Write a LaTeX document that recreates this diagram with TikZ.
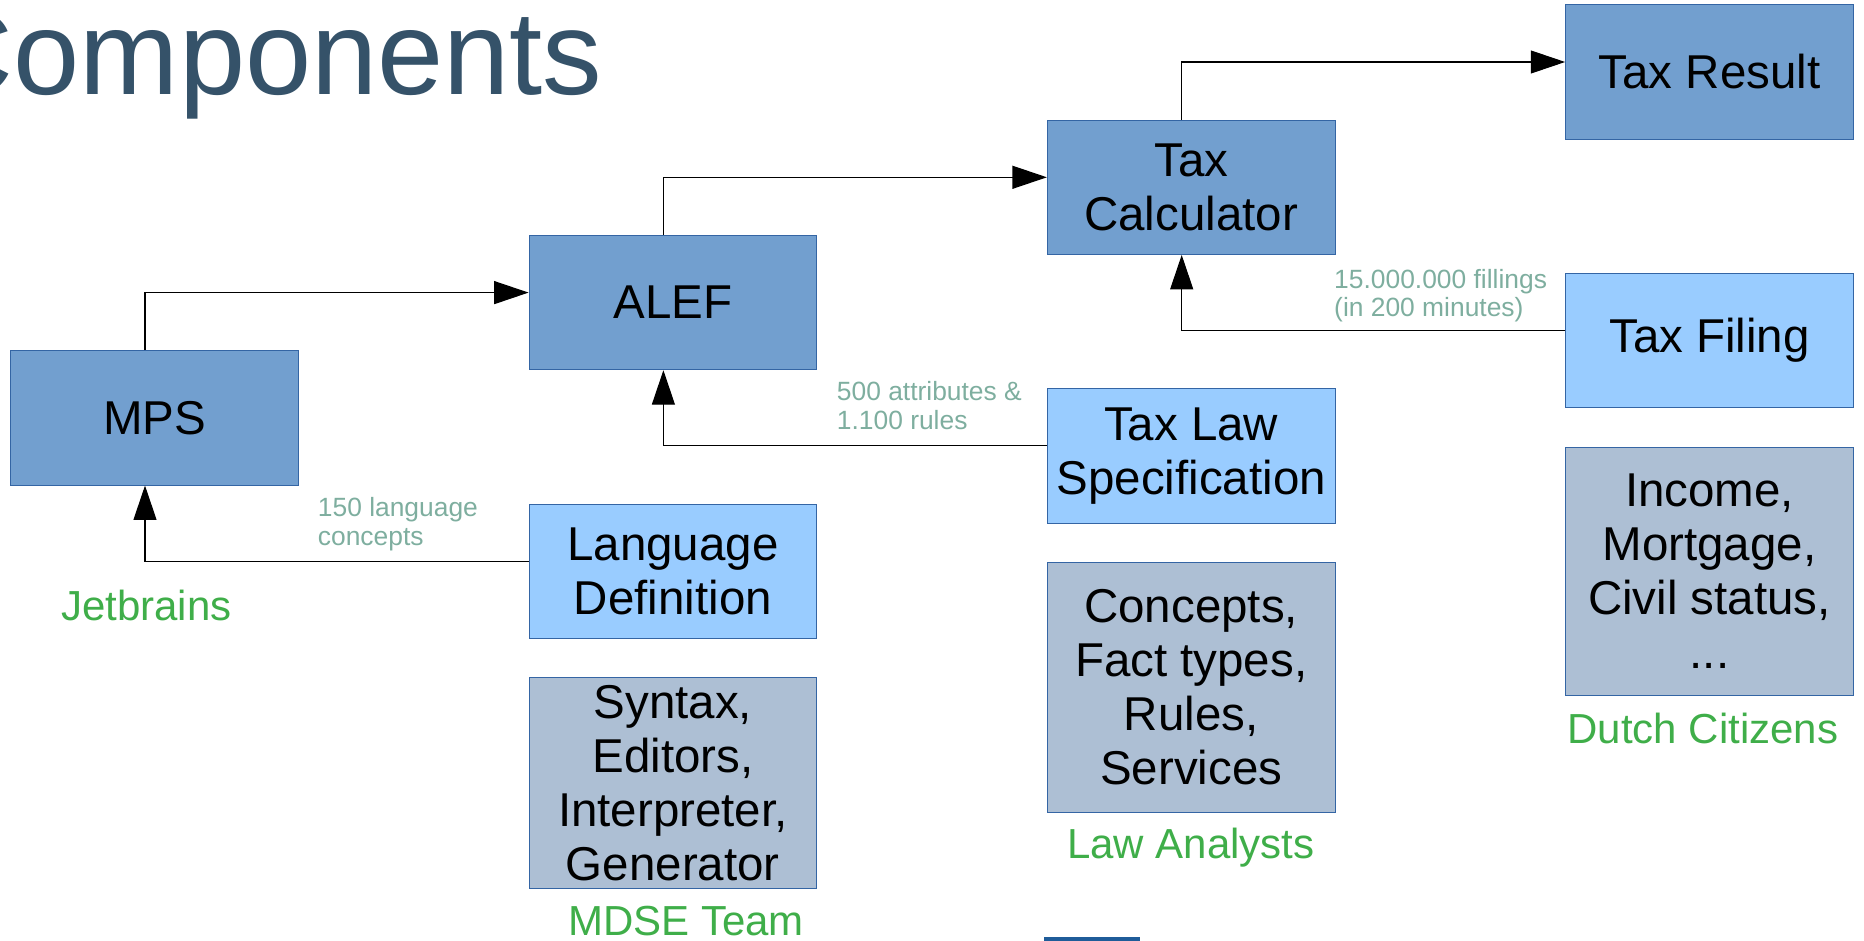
\documentclass[tikz,border=0pt]{standalone}
\usepackage{fontspec}
\setmainfont{Liberation Sans}
\usetikzlibrary{arrows.meta, positioning}
\definecolor{coreblue}{HTML}{729FCF}
\definecolor{inputblue}{HTML}{99CCFF}
\definecolor{detailgrey}{HTML}{ADBFD4}
\definecolor{boxline}{HTML}{3465A4}
\definecolor{rolegreen}{HTML}{3FAE49}
\definecolor{notegreen}{HTML}{7EAE9F}
\definecolor{titleblue}{HTML}{355269}
\definecolor{barblue}{HTML}{1F5C99}
\newcommand{\boxfont}{\fontsize{23.75}{27}\selectfont}
\newcommand{\notefont}{\fontsize{13.2}{14.3}\selectfont}
\newcommand{\rolefont}{\fontsize{21}{24}\selectfont}
\tikzset{
    box/.style={draw=boxline, line width=0.5pt, minimum width=143.85pt,
        minimum height=67.15pt, inner sep=0pt, align=center, font=\boxfont},
    core/.style={box, fill=coreblue},
    input/.style={box, fill=inputblue},
    detail/.style={box, fill=detailgrey},
    role/.style={text=rolegreen, font=\rolefont, inner sep=0pt, anchor=base},
    note/.style={text=notegreen, font=\notefont, align=left, inner sep=0pt, anchor=base west},
    flow/.style={draw=black, line width=0.55pt, -{Triangle[length=17.2pt,width=11.5pt]}},
}

\begin{document}
\begin{tikzpicture}[x=0.5pt, y=-0.5pt]
        \useasboundingbox (0,0) rectangle (1864,941);
        \clip (0,0) rectangle (1864,941);
        \node[anchor=base east, inner sep=0pt, text=titleblue,
            font=\fontsize{59.5}{64}\selectfont] (title) at (603,95) {Components};

        % main chain
        \node[core] (mps) at (154.5,417.9) {MPS};
        \node[core] (alef) at (672.9,302.6) {ALEF};
        \node[core] (taxcalc) at (1191.2,187.3) {Tax\\Calculator};
        \node[core] (taxresult) at (1709.5,72) {Tax Result};

        % inputs
        \node[input, below=66.65pt of alef] (langdef) {Language\\Definition};
        \node[input, below=66.65pt of taxcalc] (taxlaw) {Tax Law\\Specification};
        \node[input, below=66.65pt of taxresult] (taxfiling) {Tax Filing};

        % contents
        \node[detail, minimum height=105.2pt, below=19.15pt of langdef] (syntax)
            {Syntax,\\Editors,\\Interpreter,\\Generator};
        \node[detail, minimum height=124.85pt, below=19.15pt of taxlaw] (concepts)
            {Concepts,\\Fact types,\\Rules,\\Services};
        \node[detail, minimum height=124.2pt, below=19.15pt of taxfiling] (income)
            {Income,\\Mortgage,\\Civil status,\\...};

        % roles
        \node[role] (jetbrains) at (146.3,620.7) {Jetbrains};
        \node[role] (mdse) at (686,935) {MDSE Team};
        \node[role] (analysts) at (1191,858.3) {Law Analysts};
        \node[role] (citizens) at (1703,743.3) {Dutch Citizens};

        % volumes (base = last line)
        \node[note] (nconcepts) at (317.5,545.3) {150 language\\concepts};
        \node[note] (nrules) at (836.5,429.3) {500 attributes \&\\1.100 rules};
        \node[note] (nfilings) at (1333.8,316.9) {15.000.000 fillings\\(in 200 minutes)};

        \draw[flow] ([xshift=-4.75pt]mps.north) |- ([yshift=5pt]alef.west);
        \draw[flow] ([xshift=-4.75pt]alef.north) |- ([yshift=5pt]taxcalc.west);
        \draw[flow] ([xshift=-4.75pt]taxcalc.north) |- ([yshift=5pt]taxresult.west);
        \draw[flow] ([yshift=5pt]langdef.west) -| ([xshift=-4.75pt]mps.south);
        \draw[flow] ([yshift=5pt]taxlaw.west) -| ([xshift=-4.75pt]alef.south);
        \draw[flow] ([yshift=5pt]taxfiling.west) -| ([xshift=-4.75pt]taxcalc.south);

        \fill[barblue] (1043.7,936.8) rectangle (1140,941);
    \end{tikzpicture}
\end{document}
